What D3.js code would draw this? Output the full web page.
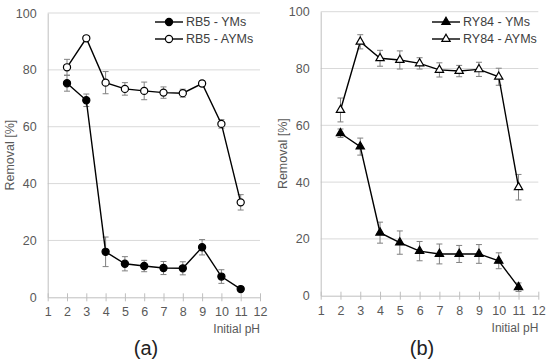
<!DOCTYPE html>
<html>
<head>
<meta charset="utf-8">
<script src="https://cdn.jsdelivr.net/npm/d3@7"></script>
<style>
body{margin:0;background:#fff;}
svg{font-family:"Liberation Sans",Arial,sans-serif;}
</style>
</head>
<body>
<div id="chart"></div>
<script>
// data
var pH = [2,3,4,5,6,7,8,9,10,11];
var xTicks = [1,2,3,4,5,6,7,8,9,10,11,12];
var yTicks = [0,20,40,60,80,100];

var rb5Yms = [75.3,69.3,16,11.8,11,10.3,10.2,17.6,7.3,2.9];
var rb5YmsErr = [2.8,2.2,5.2,2.5,2,2.3,2.3,2.7,2.4,0.5];
var rb5Ayms = [80.9,91.1,75.5,73.3,72.6,72,71.8,75.2,61,33.4];
var rb5AymsErr = [2.8,0.5,3.9,2.2,3.1,2,1.4,1,1.5,2.7];

var ry84Yms = [57.2,52.5,22.2,18.7,15.7,14.7,14.7,14.7,12.3,3];
var ry84YmsErr = [1.5,3,3.7,4.1,3.4,3.5,3,3.3,2.8,1.5];
var ry84Ayms = [65.4,89.4,83.6,83,81.8,79.5,79.1,79.7,77.1,38.2];
var ry84AymsErr = [4.2,2.5,2.8,3.2,2,2.5,2,2.5,3,4.5];

var svg = d3.select("#chart").append("svg").attr("width",550).attr("height",362);

var symSize = function(shape){ return shape===d3.symbolCircle?40:30; };

var drawPanel = function(p){
	var x = d3.scaleLinear().domain([1,12]).range([p.left,p.right]);
	var y = d3.scaleLinear().domain([0,100]).range([p.bottom,p.top]);
	var g = svg.append("g");

	//grid
	g.selectAll(".grid").data(yTicks.slice(1)).enter().append("line")
		.attr("x1",p.left).attr("x2",p.right)
		.attr("y1",function(d){return y(d);}).attr("y2",function(d){return y(d);})
		.attr("stroke","#d9d9d9").attr("stroke-width",1);

	//axes
	var ya = g.append("g").attr("transform","translate("+p.left+",0)")
		.call(d3.axisLeft(y).tickValues(yTicks).tickSize(0).tickPadding(11));
	ya.select(".domain").attr("stroke","#bfbfbf");
	var xa = g.append("g").attr("transform","translate(0,"+p.bottom+")")
		.call(d3.axisBottom(x).tickValues(xTicks).tickSize(4).tickSizeOuter(0).tickPadding(6));
	xa.select(".domain").attr("stroke","#bfbfbf");
	xa.selectAll(".tick line").attr("stroke","#bfbfbf").attr("y1",-4).attr("y2",4);
	g.selectAll(".tick text").attr("fill","#595959").style("font-size","12.5px").style("font-family","Liberation Sans, Arial, sans-serif");

	g.append("text").attr("x",p.right).attr("y",p.bottom+36).attr("text-anchor","end")
		.attr("fill","#595959").style("font-size","12px").text("Initial pH");
	g.append("text").attr("transform","translate("+(p.left-38)+","+((p.top+p.bottom)/2)+") rotate(-90)")
		.attr("text-anchor","middle").attr("dy","0.35em")
		.attr("fill","#595959").style("font-size","12.5px").text("Removal [%]");
	g.append("text").attr("x",p.label).attr("y",355).attr("text-anchor","middle")
		.attr("fill","#222").style("font-size","20px").text(p.name);

	p.series.forEach(function(s){
		var pts = pH.map(function(v,i){return [v,s.vals[i],s.err[i]];});
		//error bars
		var eb = g.append("g").attr("stroke","#808080").attr("stroke-width",1);
		pts.forEach(function(d){
			eb.append("line").attr("x1",x(d[0])).attr("x2",x(d[0])).attr("y1",y(d[1]+d[2])).attr("y2",y(d[1]-d[2]));
			eb.append("line").attr("x1",x(d[0])-3).attr("x2",x(d[0])+3).attr("y1",y(d[1]+d[2])).attr("y2",y(d[1]+d[2]));
			eb.append("line").attr("x1",x(d[0])-3).attr("x2",x(d[0])+3).attr("y1",y(d[1]-d[2])).attr("y2",y(d[1]-d[2]));
		});
		g.append("path").datum(pts)
			.attr("d",d3.line().x(function(d){return x(d[0]);}).y(function(d){return y(d[1]);}))
			.attr("fill","none").attr("stroke","#000").attr("stroke-width",1.4);
		var sym = d3.symbol().type(s.shape).size(symSize(s.shape));
		g.selectAll(null).data(pts).enter().append("path")
			.attr("d",sym)
			.attr("transform",function(d){return "translate("+x(d[0])+","+y(d[1])+")";})
			.attr("fill",s.fill).attr("stroke","#000").attr("stroke-width",1.2);
	});

	//legend
	p.series.forEach(function(s,i){
		var ly = p.legY + i*17;
		g.append("line").attr("x1",p.legX).attr("x2",p.legX+28).attr("y1",ly).attr("y2",ly)
			.attr("stroke","#000").attr("stroke-width",1.4);
		g.append("path").attr("d",d3.symbol().type(s.shape).size(symSize(s.shape)))
			.attr("transform","translate("+(p.legX+14)+","+ly+")")
			.attr("fill",s.fill).attr("stroke","#000").attr("stroke-width",1.2);
		g.append("text").attr("x",p.legX+31).attr("y",ly).attr("dy","0.35em")
			.attr("fill","#404040").style("font-size","12.5px").text(s.name);
	});
};

drawPanel({left:47.7,right:260,top:13,bottom:297.3,label:146,name:"(a)",legX:155,legY:22,
	series:[
		{name:"RB5 - YMs",vals:rb5Yms,err:rb5YmsErr,shape:d3.symbolCircle,fill:"#000"},
		{name:"RB5 - AYMs",vals:rb5Ayms,err:rb5AymsErr,shape:d3.symbolCircle,fill:"#fff"}
	]});
drawPanel({left:320.7,right:538.3,top:11.7,bottom:295.7,label:422,name:"(b)",legX:432,legY:22,
	series:[
		{name:"RY84 - YMs",vals:ry84Yms,err:ry84YmsErr,shape:d3.symbolTriangle,fill:"#000"},
		{name:"RY84 - AYMs",vals:ry84Ayms,err:ry84AymsErr,shape:d3.symbolTriangle,fill:"#fff"}
	]});
</script>
</body>
</html>
